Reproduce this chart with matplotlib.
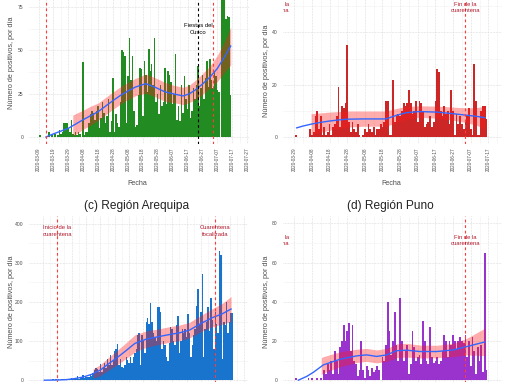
import numpy as np
import pandas as pd
import matplotlib
matplotlib.use('Agg')
import matplotlib.pyplot as plt
import matplotlib.dates as mdates
from matplotlib.ticker import MultipleLocator

plt.rcParams['font.family'] = ['Liberation Sans', 'DejaVu Sans']

W, H = 510, 382

# ---------------- datos ----------------
# (a) Cusco: casos diarios desde 2020-03-10
cusco_inicio = '2020-03-10'
cusco_casos = [1, 0, 0, 0, 0, 0, 3, 0, 1, 0, 2, 0, 1, 4, 2, 3, 8, 8, 8, 5,
               3, 10, 2, 1, 3, 1, 3, 2, 0, 43, 1, 3, 3, 8, 13, 15, 14, 10, 15, 18,
               5, 11, 20, 14, 8, 12, 22, 3, 9, 34, 3, 13, 8, 6, 20, 50, 49, 47, 8, 35,
               57, 33, 47, 15, 6, 7, 24, 40, 39, 12, 44, 36, 26, 51, 38, 42, 30, 57, 20, 25,
               13, 30, 18, 20, 40, 19, 38, 36, 32, 19, 25, 48, 10, 18, 9, 30, 14, 35, 22, 16,
               30, 11, 15, 28, 22, 30, 41, 18, 28, 36, 22, 34, 44, 29, 45, 33, 28, 38, 35, 27,
               26, 0, 88, 92, 84, 68, 70, 69, 24]
# curva suavizada (dias desde 2020-03-09)
cusco_suave_dia = [5, 10, 15, 20, 25, 30, 35, 40, 45, 50, 55, 60, 65, 72, 78, 85, 91, 97,
                   101, 105, 110, 115, 120, 125, 129]
cusco_suave = [0, 1.8, 3.4, 5, 7.5, 10, 12.3, 14.6, 17.8, 21, 24, 26.5, 28.8, 30.8, 28.8,
               26, 24.8, 23.7, 24.8, 27, 30.5, 34.5, 39.5, 46.5, 52.5]
cusco_banda_dia = [23, 25, 30, 35, 40, 45, 50, 55, 60, 65, 72, 78, 85, 91, 97, 101, 105,
                   110, 115, 120, 125, 129]
cusco_banda_sup = [12.5, 13.5, 15.5, 17.8, 19.6, 22.8, 26, 29, 31.5, 33.8, 36.3, 34.3, 31.5,
                   29.8, 28.7, 29.8, 32.5, 36.5, 41, 47, 55.5, 63.5]
cusco_banda_inf = [0.5, 1.5, 4.5, 6.8, 9.6, 12.8, 16, 19, 21.5, 23.8, 25.3, 23.3, 20.5,
                   19.8, 18.7, 19.8, 21.5, 24.5, 28, 32, 37.5, 41.5]

# (b) casos diarios desde 2020-03-30
b_inicio = '2020-03-30'
b_casos = [1, 0, 0, 0, 0, 0, 0, 0,
           3, 1, 2, 8, 10, 3, 8, 1, 4, 1, 2, 5, 1, 4, 5, 8, 19, 4, 12, 11,
           13, 35, 6, 2, 6, 3, 2, 5, 1, 0, 1, 3, 2, 5, 3, 2, 4, 1, 3, 3,
           5, 4, 6, 14, 14, 1, 1, 22, 6, 8, 9, 8, 10, 13, 12, 13, 18, 13, 9, 10,
           14, 6, 14, 13, 10, 4, 5, 6, 8, 4, 6, 14, 26, 25, 10, 8, 12, 9, 10, 5,
           18, 10, 1, 9, 5, 8, 5, 3, 6, 8, 11, 3, 1, 28, 14, 1, 1, 10, 12, 12, 7]
b_suave_dia = [1.4, 5, 9.5, 15, 20, 25, 30, 39, 45, 52, 55, 58, 63.7, 71, 80.7, 90, 97.7,
               103, 108]
b_suave = [3.6, 4.3, 5, 5.7, 6.2, 6.6, 6.9, 7, 7, 7, 7.7, 8.4, 9.4, 9.8, 9.6, 9, 8.4, 8, 7.5]
b_banda_dia = [9.5, 15, 20, 25, 30, 39, 45, 52, 55, 58, 63.7, 71, 80.7, 90, 97.7, 103, 108]
b_banda_sup = [9.0, 9.3, 9.6, 9.8, 10.0, 10.0, 10.0, 10.0, 10.5, 11.0, 11.8, 12.0, 11.9,
               11.5, 11.2, 11.3, 11.8]
b_banda_inf = [1.0, 1.9, 2.7, 3.4, 3.9, 4.2, 4.2, 4.2, 4.9, 5.8, 6.9, 7.6, 7.3, 6.5, 5.6,
               4.7, 3.2]

# (c) Arequipa: casos diarios desde 2020-03-07
arequipa_inicio = '2020-03-07'
arequipa_casos = [1, 0, 0, 1, 0, 1, 2, 1, 2,
                  1, 2, 1, 3, 2, 1, 3, 2, 4, 3,
                  5, 3, 6, 4, 10, 3, 5, 8, 12, 6,
                  9, 7, 8, 12, 10, 18, 25, 30, 28, 20,
                  42, 20, 35, 45, 30, 55, 40, 65, 40, 50,
                  75, 80, 92, 40, 55, 35, 30, 40, 60, 52,
                  45, 60, 45, 60, 70, 80, 115, 120, 40, 115,
                  100, 70, 150, 160, 145, 198, 150, 120, 110, 100,
                  187, 187, 175, 80, 100, 90, 60, 50, 95, 135,
                  130, 100, 90, 140, 165, 70, 100, 130, 120, 130,
                  110, 170, 120, 60, 90, 115, 130, 190, 232, 140,
                  175, 272, 60, 130, 150, 186, 125, 210, 155, 80,
                  175, 145, 120, 330, 320, 55, 150, 140, 200, 120,
                  150, 172, 172]
# dias desde 2020-03-16
arequipa_suave_dia = [-9, 0, 6.5, 12, 18, 24, 30, 35, 41, 47, 54, 62, 70, 77, 85, 92, 100,
                      108, 115, 121]
arequipa_suave = [0, 0.5, 1.5, 4, 8, 15, 26, 40, 56, 73, 94, 105, 111, 116, 121, 128, 145,
                  160, 170, 182]
arequipa_banda_dia = [25, 30, 35, 41, 47, 54, 62, 70, 77, 85, 92, 100, 108, 115, 121]
arequipa_banda_sup = [29, 40, 56, 74, 93, 116, 126, 131, 136, 141, 148, 166, 183, 197, 214]
arequipa_banda_inf = [5, 12, 24, 38, 53, 72, 84, 91, 96, 101, 108, 124, 137, 143, 150]

# (d) Puno: casos diarios desde 2020-03-30
puno_inicio = '2020-03-30'
puno_casos = [1, 0, 0, 0, 0, 0, 0, 1, 0, 1, 0, 0, 1, 0, 1, 0,
              5, 3, 8, 5, 10, 3, 15, 10, 3, 17, 20, 28, 20, 25, 29, 15, 28, 10, 8, 2,
              5, 20, 5, 1, 7, 5, 2, 6, 4, 5, 7, 5, 0, 12, 10, 18, 40, 25, 13, 20,
              35, 18, 10, 42, 20, 10, 15, 18, 3, 8, 25, 17, 10, 12, 13, 8, 30, 20, 10, 8,
              27, 12, 9, 10, 12, 8, 10, 15, 23, 20, 12, 20, 18, 23, 20, 16, 20, 22, 20, 19,
              23, 12, 20, 7, 22, 15, 3, 17, 10, 18, 4, 65, 5]
# dias desde 2020-03-29
puno_suave_dia = [2.3, 7, 10.8, 16.5, 26, 35.4, 41, 46.7, 52.4, 58, 63.7, 71.3, 80.7, 90,
                  97.7, 108]
puno_suave = [0, 1.9, 4.0, 7.8, 10.7, 12.4, 12.9, 12.1, 12.9, 15, 15.3, 14.6, 14.6, 15.4,
              17.1, 19.5]
puno_banda_dia = [15.3, 16.5, 26, 35.4, 41, 46.7, 52.4, 58, 63.7, 71.3, 80.7, 90, 97.7, 108]
puno_banda_sup = [11.5, 12.0, 14.5, 15.8, 16.2, 15.4, 16.2, 18.5, 18.8, 17.9, 17.8, 18.8,
                  21.3, 26.5]
puno_banda_inf = [2.9, 3.6, 6.9, 9.0, 9.6, 8.8, 9.6, 11.5, 11.8, 11.3, 11.4, 12.0, 12.9, 12.5]

ROJO_TXT = '#B2182B'
ROJO_LINEA = '#FF3B3B'
GRIS = '#4D4D4D'


def px_axes(fig, left, top, right, bottom):
    return fig.add_axes([left / W, 1 - bottom / H, (right - left) / W, (bottom - top) / H])


def panel(ax, inicio, casos, color, base, s_dia, s_val, b_dia, b_sup, b_inf,
          xlim_dias, ylim, yticks, ymenor, primer_tick, etiquetas_x=True):
    fechas = mdates.date2num(pd.date_range(inicio, periods=len(casos), freq='D'))
    b0 = mdates.date2num(pd.Timestamp(base))
    ax.bar(fechas, casos, width=1.0, color=color, linewidth=0, zorder=2)
    ax.fill_between(b0 + np.array(b_dia), b_inf, b_sup, color='#FF1A1A', alpha=0.36,
                    linewidth=0, zorder=3)
    ax.plot(b0 + np.array(s_dia), s_val, color='#3366FF', linewidth=1.0, zorder=4)

    t0 = mdates.date2num(pd.Timestamp(primer_tick))
    ticks = t0 + np.arange(0, 150, 10)
    ax.set_xticks(ticks)
    ax.set_xticks(ticks + 5, minor=True)
    ax.xaxis.set_major_formatter(mdates.DateFormatter('%Y-%m-%d'))
    ax.set_yticks(yticks)
    ax.yaxis.set_minor_locator(MultipleLocator(ymenor))
    ax.set_ylim(*ylim)
    ax.set_xlim(b0 + xlim_dias[0], b0 + xlim_dias[1])

    ax.grid(True, which='major', color='#D4D4D4', linestyle=(0, (1, 1.2)), linewidth=0.5)
    ax.grid(True, which='minor', color='#E2E2E2', linestyle=(0, (1, 1.2)), linewidth=0.4)
    ax.set_axisbelow(True)
    for s in ax.spines.values():
        s.set_visible(False)
    ax.tick_params(which='both', length=0)
    ax.tick_params(axis='x', labelsize=3.3, labelcolor=GRIS, rotation=90, pad=2.5,
                   labelbottom=etiquetas_x)
    ax.tick_params(axis='y', labelsize=3.6, labelcolor=GRIS, pad=4)
    ax.set_ylabel('Número de positivos, por día', fontsize=5.2, color=GRIS)


def vlinea(ax, fecha, color):
    ax.axvline(mdates.date2num(pd.Timestamp(fecha)), color=color, linestyle=(0, (2.5, 2.5)),
               linewidth=0.8, zorder=5)


def nota(ax, fecha, y, texto, color):
    ax.text(mdates.date2num(pd.Timestamp(fecha)), y, texto, ha='center', va='center',
            fontsize=4.2, color=color, linespacing=1.35, zorder=6, clip_on=True)


fig = plt.figure(figsize=(W / 100, H / 100), dpi=100)
fig.patch.set_facecolor('white')

# (a)
L, R = 29, 249
ax = px_axes(fig, L, -19, R, 144)
panel(ax, cusco_inicio, cusco_casos, '#228B22', '2020-03-09',
      cusco_suave_dia, cusco_suave, cusco_banda_dia, cusco_banda_sup, cusco_banda_inf,
      ((L - 38.5) / 1.49, (R - 38.5) / 1.49), ((137 - 144) / 1.733, (137 + 19) / 1.733),
      [0, 25, 50, 75], 12.5, '2020-03-09')
vlinea(ax, '2020-03-14', ROJO_LINEA)
vlinea(ax, '2020-06-24', 'black')
vlinea(ax, '2020-07-04', ROJO_LINEA)
nota(ax, '2020-06-24', 62.4, 'Fiestas del\nCusco', 'black')
ax.set_xlabel('Fecha', fontsize=5.1, color=GRIS)
ax.xaxis.set_label_coords((137 - L) / (R - L), (144 - 180) / 163)
ax.yaxis.set_label_coords((15 - L) / (R - L), 0.5)

# (b)
L, R = 283, 502
ax = px_axes(fig, L, -3, R, 144)
panel(ax, b_inicio, b_casos, '#CD2626', '2020-03-29',
      b_suave_dia, b_suave, b_banda_dia, b_banda_sup, b_banda_inf,
      ((L - 294.3) / 1.764, (R - 294.3) / 1.764), ((137.3 - 144) / 2.625, (137.3 + 3) / 2.625),
      [0, 20, 40], 10, '2020-03-29')
vlinea(ax, '2020-07-04', ROJO_LINEA)
nota(ax, '2020-07-04', 49.5, 'Fin de la\ncuarentena', ROJO_TXT)
nota(ax, '2020-03-18', 49.5, 'Inicio de la\ncuarentena', ROJO_TXT)
ax.set_xlabel('Fecha', fontsize=5.1, color=GRIS)
ax.xaxis.set_label_coords((391 - L) / (R - L), (144 - 180) / 147)
ax.yaxis.set_label_coords((270 - L) / (R - L), 0.5)

# (c)
L, R = 29, 248
ax = px_axes(fig, L, 216, R, 388)
panel(ax, arequipa_inicio, arequipa_casos, '#1874CD', '2020-03-16',
      arequipa_suave_dia, arequipa_suave, arequipa_banda_dia, arequipa_banda_sup,
      arequipa_banda_inf,
      ((L - 57.3) / 1.436, (R - 57.3) / 1.436), (-20, 420),
      [0, 100, 200, 300, 400], 50, '2020-03-06', etiquetas_x=False)
vlinea(ax, '2020-03-16', ROJO_LINEA)
vlinea(ax, '2020-07-04', ROJO_LINEA)
nota(ax, '2020-03-16', 382, 'Inicio de la\ncuarentena', ROJO_TXT)
nota(ax, '2020-07-04', 382, 'Cuarentena\nfocalizada', ROJO_TXT)
ax.yaxis.set_label_coords((15 - L) / (R - L), 0.5)
fig.text(137 / W, 1 - 206 / H, '(c) Región Arequipa', ha='center', va='center',
         fontsize=8.6, color='#222222')

# (d)
L, R = 283, 502
ax = px_axes(fig, L, 215.5, R, 388)
panel(ax, puno_inicio, puno_casos, '#9A32CD', '2020-03-29',
      puno_suave_dia, puno_suave, puno_banda_dia, puno_banda_sup, puno_banda_inf,
      ((L - 294.3) / 1.764, (R - 294.3) / 1.764), (-4, 84),
      [0, 20, 40, 60, 80], 10, '2020-03-29', etiquetas_x=False)
vlinea(ax, '2020-07-04', ROJO_LINEA)
nota(ax, '2020-07-04', 71.3, 'Fin de la\ncuarentena', ROJO_TXT)
nota(ax, '2020-03-18', 71.3, 'Inicio de la\ncuarentena', ROJO_TXT)
ax.yaxis.set_label_coords((270 - L) / (R - L), 0.5)
fig.text(390 / W, 1 - 206 / H, '(d) Región Puno', ha='center', va='center',
         fontsize=8.6, color='#222222')

fig.savefig('out.png', dpi=100, facecolor='white')
